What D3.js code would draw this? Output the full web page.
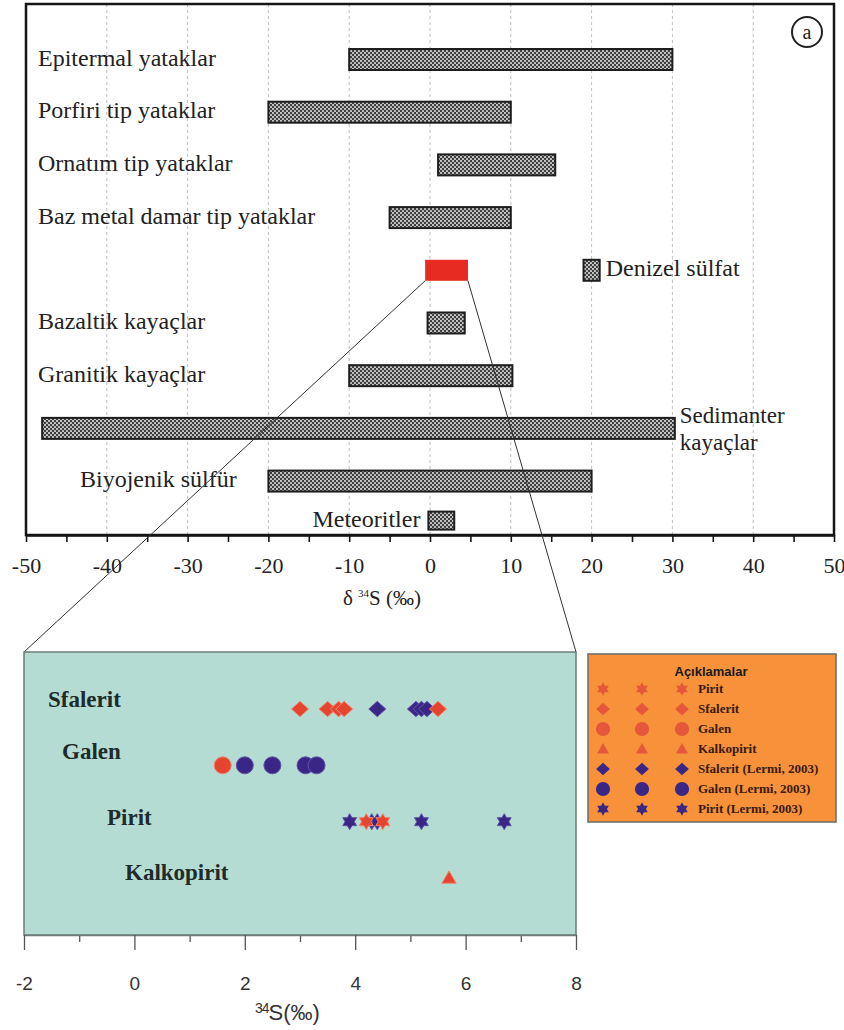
<!DOCTYPE html>
<html><head><meta charset="utf-8">
<script src="https://cdn.jsdelivr.net/npm/d3@7"></script>
<style>body{margin:0;background:#fff}</style>
</head><body><svg id="chart" width="844" height="1030"></svg>
<script>
// ---------- Top panel data (δ34S ranges, ‰) ----------
const rangeNames = ["Epitermal yataklar","Porfiri tip yataklar","Ornatım tip yataklar","Baz metal damar tip yataklar","Denizel sülfat","Bazaltik kayaçlar","Granitik kayaçlar","Sedimanter kayaçlar","Biyojenik sülfür","Meteoritler"];
const rangeMin = [-10, -20, 1, -5, 19, -0.3, -10, -48, -20, -0.2];
const rangeMax = [30, 10, 15.5, 10, 21, 4.3, 10.2, 30.3, 20, 3];
const rangeRow = [0, 1, 2, 3, 4, 5, 6, 7, 8, 8.75];
const studyRange = [-0.6, 4.7];
const studyRow = 4;
const topTicks = [-50,-45,-40,-35,-30,-25,-20,-15,-10,-5,0,5,10,15,20,25,30,35,40,45,50];
const topGrid = [-40,-30,-20,-10,0,10,20,30,40];

// ---------- Bottom panel data (34S, ‰) ----------
const minerals = ["Sfalerit","Galen","Pirit","Kalkopirit"];
const sfaleritThis = [3.0, 3.5, 3.7, 3.8, 5.5];
const sfaleritLermi = [4.4, 5.1, 5.2, 5.3];
const galenThis = [1.6];
const galenLermi = [2.0, 2.5, 3.1, 3.3];
const piritThis = [4.2, 4.5];
const piritLermi = [3.9, 4.3, 4.4, 5.2, 6.7];
const kalkopiritThis = [5.7];
const lowerTicks = [-2,-1,0,1,2,3,4,5,6,7,8];
const legendLabels = ["Pirit","Sfalerit","Galen","Kalkopirit","Sfalerit (Lermi, 2003)","Galen (Lermi, 2003)","Pirit (Lermi, 2003)"];
const legendShapes = ["star","diamond","circle","triangle","diamond","circle","star"];
const legendSource = ["this","this","this","this","lermi","lermi","lermi"];

// ---------- setup ----------
const svg = d3.select("#chart");
const defs = svg.append("defs");
const pat = defs.append("pattern").attr("id","dots").attr("patternUnits","userSpaceOnUse").attr("width",4).attr("height",4);
pat.append("rect").attr("width",4).attr("height",4).attr("fill","#3e3e3e");
pat.append("circle").attr("cx",1).attr("cy",1).attr("r",1.1).attr("fill","#d0d0d0");
pat.append("circle").attr("cx",3).attr("cy",3).attr("r",1.1).attr("fill","#d0d0d0");

const serif = "Liberation Serif, Times New Roman, serif";
const sans = "Liberation Sans, Arial, sans-serif";

const T = {left:26, right:834, top:4, bottom:535};
const x = d3.scaleLinear().domain([-50,50]).range([T.left, T.right]);
const y = d3.scaleLinear().domain([0,8.75]).range([59.5,520.6]);
const barH = d => d.name === "Meteoritler" ? 18 : 21;

// grid
svg.append("g").selectAll("line").data(topGrid).join("line")
  .attr("x1",d=>x(d)).attr("x2",d=>x(d)).attr("y1",T.top).attr("y2",T.bottom)
  .attr("stroke","#bdbdbd").attr("stroke-width",1).attr("stroke-dasharray","3,3");

const ranges = rangeNames.map((n,i)=>({name:n,min:rangeMin[i],max:rangeMax[i],row:rangeRow[i]}));
svg.append("g").selectAll("rect").data(ranges).join("rect")
  .attr("x",d=>x(d.min)).attr("y",d=>y(d.row)-barH(d)/2)
  .attr("width",d=>x(d.max)-x(d.min)).attr("height",d=>barH(d))
  .attr("fill","url(#dots)").attr("stroke","#1e1e1e").attr("stroke-width",2);

// study range (red)
svg.append("rect").attr("x",x(studyRange[0])).attr("y",y(studyRow)-10.5)
  .attr("width",x(studyRange[1])-x(studyRange[0])).attr("height",21).attr("fill","#e62b22");

// labels
const labelLayout = {
  "Biyojenik sülfür": d => ({x:80, anchor:"start"}),
  "Meteoritler": d => ({x:x(d.min)-8, anchor:"end"}),
  "Denizel sülfat": d => ({x:x(d.max)+6, anchor:"start"}),
  "Sedimanter kayaçlar": d => ({x:x(d.max)+5, anchor:"start"})
};
const lab = svg.append("g").attr("font-family",serif).attr("font-size",24).attr("fill","#222");
ranges.forEach(d=>{
  const L = labelLayout[d.name] ? labelLayout[d.name](d) : {x:38, anchor:"start"};
  if (d.name === "Sedimanter kayaçlar") {
    const parts = d.name.split(" ");
    lab.append("text").attr("x",L.x).attr("y",y(d.row)-5).attr("font-size",23).attr("text-anchor",L.anchor).text(parts[0]);
    lab.append("text").attr("x",L.x).attr("y",y(d.row)+22).attr("font-size",23).attr("text-anchor",L.anchor).text(parts[1]);
  } else {
    lab.append("text").attr("x",L.x).attr("y",y(d.row)+6).attr("text-anchor",L.anchor).text(d.name);
  }
});

// frame
svg.append("rect").attr("x",T.left).attr("y",T.top).attr("width",T.right-T.left).attr("height",T.bottom-T.top)
  .attr("fill","none").attr("stroke","#151515").attr("stroke-width",2.5);

// axis
const ax = svg.append("g").attr("transform",`translate(0,${T.bottom})`)
  .call(d3.axisBottom(x).tickValues(topTicks).tickSize(7).tickSizeOuter(0)
    .tickFormat(d => d % 10 === 0 ? String(d) : ""));
ax.select(".domain").attr("stroke","#151515").attr("stroke-width",2.5);
ax.selectAll(".tick line").attr("stroke","#151515").attr("stroke-width",1.6);
ax.selectAll(".tick text").attr("y",38).attr("dy",null).attr("font-family",serif).attr("font-size",22).attr("fill","#222");

const xl = svg.append("text").attr("x",382).attr("y",605).attr("text-anchor","middle")
  .attr("font-family",serif).attr("font-size",21).attr("fill","#222");
xl.append("tspan").text("δ ");
xl.append("tspan").attr("font-size",11).attr("dy",-8).text("34");
xl.append("tspan").attr("dy",8).text("S (‰)");

// circle "a"
svg.append("circle").attr("cx",807).attr("cy",32).attr("r",15).attr("fill","none").attr("stroke","#222").attr("stroke-width",2);
svg.append("text").attr("x",807).attr("y",39).attr("text-anchor","middle").attr("font-family",serif).attr("font-size",20).attr("fill","#222").text("a");

// ---------- lower panel ----------
const B = {left:24, right:576, top:652, bottom:935};
const x2 = d3.scaleLinear().domain([-2,8]).range([B.left,B.right]);
const y2 = d3.scalePoint().domain(minerals).range([709,878]);

// connectors
svg.append("line").attr("x1",x(studyRange[0])).attr("y1",y(studyRow)+10.5).attr("x2",B.left).attr("y2",B.top)
  .attr("stroke","#333").attr("stroke-width",1);
svg.append("line").attr("x1",x(studyRange[1])).attr("y1",y(studyRow)+10.5).attr("x2",B.right).attr("y2",B.top)
  .attr("stroke","#333").attr("stroke-width",1);

svg.append("rect").attr("x",B.left).attr("y",B.top).attr("width",B.right-B.left).attr("height",B.bottom-B.top)
  .attr("fill","#b5dcd3").attr("stroke","#6c7c77").attr("stroke-width",1.5);

const minorAx = svg.append("g").attr("transform",`translate(0,${B.bottom})`)
  .call(d3.axisBottom(x2).tickValues(lowerTicks.filter(d=>Math.abs(d)%2===1)).tickSize(7).tickSizeOuter(0).tickFormat(""));
minorAx.select(".domain").remove();
minorAx.selectAll(".tick line").attr("stroke","#555").attr("stroke-width",1.3);
const majorAx = svg.append("g").attr("transform",`translate(0,${B.bottom})`)
  .call(d3.axisBottom(x2).tickValues(lowerTicks.filter(d=>d%2===0)).tickSize(15).tickSizeOuter(0).tickFormat(d=>String(d)));
majorAx.select(".domain").attr("stroke","#6c7c77").attr("stroke-width",1.5);
majorAx.selectAll(".tick line").attr("stroke","#555").attr("stroke-width",1.3);
majorAx.selectAll(".tick text").attr("y",55).attr("dy",null).attr("font-family",sans).attr("font-size",19).attr("fill","#333");

const xl2 = svg.append("text").attr("x",255).attr("y",1020).attr("font-family",sans).attr("font-size",22).attr("fill","#333");
xl2.append("tspan").attr("font-size",14).attr("dy",-7).attr("letter-spacing",-1).text("34");
xl2.append("tspan").attr("dy",7).text("S(‰)");

// mineral labels
const labX = {Sfalerit:48, Galen:62, Pirit:107, Kalkopirit:125};
const labDy = {Sfalerit:-2, Galen:-6, Pirit:3, Kalkopirit:2};
svg.append("g").selectAll("text").data(minerals).join("text")
  .attr("x",d=>labX[d]).attr("y",d=>y2(d)+labDy[d])
  .attr("font-family",serif).attr("font-weight","bold").attr("font-size",23).attr("fill","#1d2b2b").text(d=>d);

// symbols
const star6 = {draw(ctx,size){const r=Math.sqrt(size)/2, ri=r*0.58;
  for(let i=0;i<12;i++){const a=i*Math.PI/6-Math.PI/2, rr=i%2?ri:r; i?ctx.lineTo(rr*Math.cos(a),rr*Math.sin(a)):ctx.moveTo(rr*Math.cos(a),rr*Math.sin(a));} ctx.closePath();}};
const diamond = {draw(ctx,size){const r=Math.sqrt(size)/2; ctx.moveTo(0,-r*0.9);ctx.lineTo(r,0);ctx.lineTo(0,r*0.9);ctx.lineTo(-r,0);ctx.closePath();}};
const circle = {draw(ctx,size){const r=Math.sqrt(size)/2; ctx.moveTo(r,0); ctx.arc(0,0,r,0,2*Math.PI);}};
const tri = {draw(ctx,size){const r=Math.sqrt(size)/2; ctx.moveTo(0,-r*0.95);ctx.lineTo(r*0.95,r*0.7);ctx.lineTo(-r*0.95,r*0.7);ctx.closePath();}};
const shapeMap = {star:star6, diamond:diamond, circle:circle, triangle:tri};
const col = {this:"#e5452f", lermi:"#3a2785"};
const halo = {this:"#f0836a", lermi:"#6252a8"};
const sizeMap = {star:256, diamond:289, circle:289, triangle:225};

const pts = [];
const add = (arr, mineral, shape, src) => arr.forEach(v=>pts.push({v, mineral, shape, src}));
add(sfaleritLermi,"Sfalerit","diamond","lermi");
add(galenLermi,"Galen","circle","lermi");
add(piritLermi,"Pirit","star","lermi");
add(sfaleritThis,"Sfalerit","diamond","this");
add(galenThis,"Galen","circle","this");
add(piritThis,"Pirit","star","this");
add(kalkopiritThis,"Kalkopirit","triangle","this");

svg.append("g").selectAll("path").data(pts).join("path")
  .attr("transform",d=>`translate(${x2(d.v)},${y2(d.mineral)})`)
  .attr("d",d=>d3.symbol().type(shapeMap[d.shape]).size(sizeMap[d.shape])())
  .attr("fill",d=>col[d.src]).attr("stroke",d=>halo[d.src]).attr("stroke-width",1);

// legend
const Lg = {x:588, y:654, w:248, h:168};
svg.append("rect").attr("x",Lg.x).attr("y",Lg.y).attr("width",Lg.w).attr("height",Lg.h)
  .attr("fill","#f7923a").attr("stroke","#6b6b6b").attr("stroke-width",1.5);
svg.append("text").attr("x",711).attr("y",676).attr("text-anchor","middle").attr("font-family",sans)
  .attr("font-weight","bold").attr("font-size",13).attr("fill","#1a1a1a").text("Açıklamalar");
const legCols = [603, 642, 682];
const legCol = {this:"#e4573a", lermi:"#3a2785"};
const legSize = {star:180, diamond:190, circle:200, triangle:160};
legendLabels.forEach((t,i)=>{
  const ry = 689 + i*20;
  legCols.forEach(cx=>{
    svg.append("path").attr("transform",`translate(${cx},${ry})`)
      .attr("d",d3.symbol().type(shapeMap[legendShapes[i]]).size(legSize[legendShapes[i]])())
      .attr("fill",legCol[legendSource[i]]);
  });
  svg.append("text").attr("x",698).attr("y",ry+4).attr("font-family",serif).attr("font-weight","bold")
    .attr("font-size",13).attr("fill","#3a1a0c").text(t);
});
</script></body></html>
